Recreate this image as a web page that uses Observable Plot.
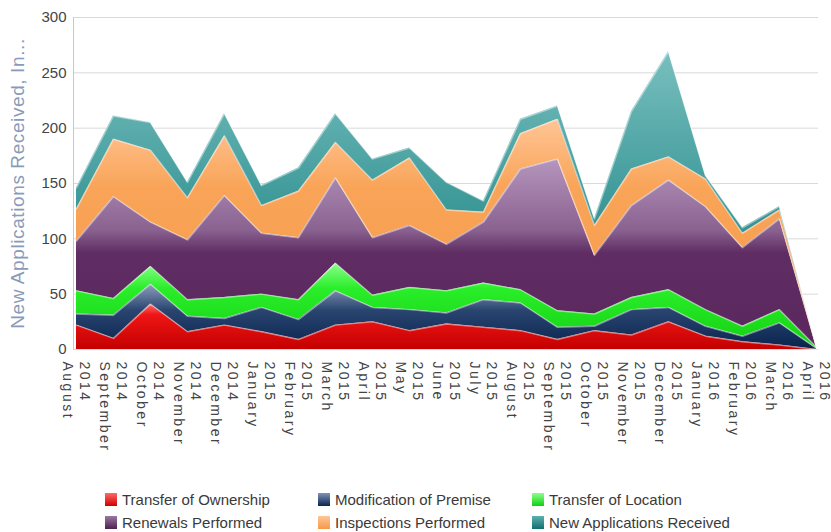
<!DOCTYPE html>
<html><head><meta charset="utf-8">
<script src="https://cdn.jsdelivr.net/npm/d3@7"></script>
<script src="https://cdn.jsdelivr.net/npm/@observablehq/plot@0.6"></script>
<style>
body{margin:0;background:#fff;font-family:"Liberation Sans",Arial,sans-serif;}
#wrap{position:relative;width:831px;height:532px;overflow:hidden;}
#wrap svg{position:absolute;left:0;top:0;}
.lg{position:absolute;font-size:15px;color:#3a3a3a;white-space:nowrap;line-height:15px;}
.sw{position:absolute;width:12px;height:13px;}
</style></head><body><div id="wrap"></div>
<script>
const months = ["August","September","October","November","December","January","February","March","April","May","June","July","August","September","October","November","December","January","February","March","April"];
const years = ["2014","2014","2014","2014","2014","2015","2015","2015","2015","2015","2015","2015","2015","2015","2015","2015","2015","2016","2016","2016","2016"];
const seriesNames = ["Transfer of Ownership","Modification of Premise","Transfer of Location","Renewals Performed","Inspections Performed","New Applications Received"];
const transferOwnership = [22,10,41,16,22,16,9,22,25,17,23,20,17,9,17,13,25,12,7,4,0];
const modificationPremise = [10,21,18,14,6,22,18,31,13,19,10,25,25,11,4,23,13,9,5,20,1];
const transferLocation = [21,15,16,15,19,12,18,25,11,20,20,15,12,15,11,11,16,15,9,12,1];
const renewalsPerformed = [45,92,40,54,92,55,56,77,52,56,42,55,109,137,53,83,99,93,71,82,0];
const inspectionsPerformed = [29,52,65,38,54,25,42,32,52,61,31,9,32,36,27,33,21,25,13,8,0];
const newApplications = [19,21,25,14,20,18,21,26,19,9,25,10,13,12,6,52,95,3,5,3,0];
const yTicks = [0,50,100,150,200,250,300];
const yLabel = "New Applications Received, In...";

const seriesValues = [transferOwnership, modificationPremise, transferLocation, renewalsPerformed, inspectionsPerformed, newApplications];
const labels = months.map((m, i) => m + " " + years[i]);
const table = [];
seriesNames.forEach((s, k) => seriesValues[k].forEach((v, i) => table.push({label: labels[i], series: s, value: v})));

const grads = [
  [["0", "#ff6a6a"], ["0.25", "#ee1515"], ["1", "#c40000"]],
  [["0", "#8f9fbd"], ["0.4", "#2a4670"], ["1", "#08234e"]],
  [["0", "#8cff8c"], ["0.3", "#2aee2a"], ["1", "#12d012"]],
  [["0", "#b596bd"], ["0.38", "#8a6290"], ["0.5", "#5f2d63"], ["1", "#5a285d"]],
  [["0", "#ffc596"], ["0.3", "#f9a458"], ["1", "#f59a48"]],
  [["0", "#79bfbf"], ["0.5", "#3f9a9a"], ["1", "#157878"]]
];
const swatchCss = ["linear-gradient(#ff6a6a,#d00000)","linear-gradient(#7f93b8,#0a2550)","linear-gradient(#8cff8c,#12d012)","linear-gradient(#9a78a2,#4f2052)","linear-gradient(#ffc596,#f59a48)","linear-gradient(#5fb0b0,#126f6f)"];

const plot = Plot.plot({
  width: 831,
  height: 470,
  marginTop: 17,
  marginBottom: 121,
  marginLeft: 73,
  marginRight: 13,
  style: {fontFamily: "'Liberation Sans', Arial, sans-serif", color: "#444", background: "transparent"},
  x: {type: "point", domain: labels, padding: 0},
  y: {domain: [0, 300]},
  color: {domain: seriesNames, range: seriesNames.map((_, i) => `url(#grad${i})`)},
  marks: [
    Plot.gridY(yTicks, {stroke: "#d9d9d9", strokeOpacity: 1}),
    Plot.areaY(table, {x: "label", y: "value", z: "series", fill: "series"}),
    Plot.lineY(table, Plot.stackY2({x: "label", y: "value", z: "series", stroke: "rgba(255,255,255,0.45)", strokeWidth: 1.4})),
    Plot.frame({anchor: "left", stroke: "#c8c8c8"}),
    Plot.axisY({ticks: yTicks, tickSize: 0, tickPadding: 7, fontSize: 15, label: yLabel, labelAnchor: "center", labelArrow: "none", labelOffset: 63}),
    Plot.axisX({tickSize: 0, tickPadding: 12, tickRotate: 90, fontSize: 14, lineHeight: 1.2, label: null,
      tickFormat: (d) => { const i = labels.indexOf(d); return years[i] + "\n" + months[i]; }})
  ]
});

const svg = d3.select(plot);
const defs = svg.insert("defs", ":first-child");
grads.forEach((stops, i) => {
  const g = defs.append("linearGradient").attr("id", `grad${i}`).attr("x1", 0).attr("y1", 0).attr("x2", 0).attr("y2", 1);
  stops.forEach(([o, c]) => g.append("stop").attr("offset", o).attr("stop-color", c));
});
svg.selectAll('g[aria-label="x-axis tick label"]').style("letter-spacing", "2.5px");
svg.selectAll('g[aria-label="y-axis label"]').style("font-size", "19px").style("fill", "#8a9ab8").style("letter-spacing", "0.6px");
svg.selectAll('g[aria-label="y-axis label"] text').attr("fill", "#8a9ab8");

const wrap = document.getElementById("wrap");
wrap.appendChild(plot);

const cols = [[105, 122], [318, 335], [532, 549]];
const rows = [493, 516];
seriesNames.forEach((s, k) => {
  const c = cols[k % 3], r = rows[Math.floor(k / 3)];
  const sw = document.createElement("div");
  sw.className = "sw"; sw.style.left = c[0] + "px"; sw.style.top = r + "px"; sw.style.background = swatchCss[k];
  wrap.appendChild(sw);
  const t = document.createElement("div");
  t.className = "lg"; t.style.left = c[1] + "px"; t.style.top = (r - 1) + "px"; t.textContent = s;
  wrap.appendChild(t);
});
</script></body></html>
